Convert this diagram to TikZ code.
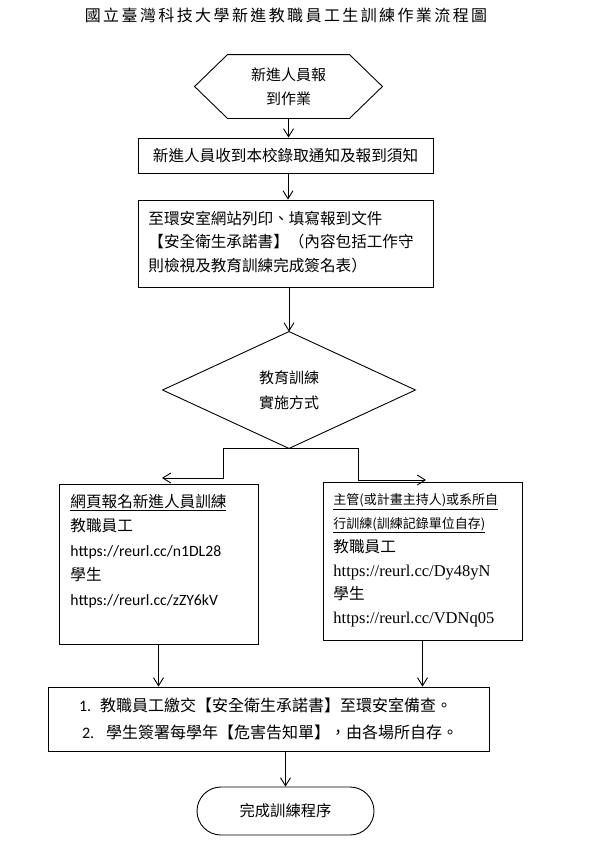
\documentclass[tikz,border=0pt]{standalone}
\usepackage{fontspec}
\setmainfont{Noto Sans CJK TC}
\newfontfamily\calfont{Carlito}
\newfontfamily\tmsfont{Liberation Serif}
\usetikzlibrary{arrows.meta,calc}
\newcommand\setfs[2]{\fontsize{#1}{#2}\selectfont}
\begin{document}
\begin{tikzpicture}[x=1pt,y=-1pt,
  line width=0.9pt,
  arr/.style={-{Straight Barb[length=8pt,width=10pt]}},
  box/.style={draw, rectangle, inner sep=0pt},
  ghost/.style={inner sep=0pt},
  txt/.style={inner sep=0pt, align=left, anchor=west},
  ]
\useasboundingbox (0,0) rectangle (593,846);
\coordinate (sp) at (288,0);

% title
\node[ghost] (title) at (286,15) {\setfs{16}{16}\addfontfeatures{LetterSpace=15}國立臺灣科技大學新進教職員工生訓練作業流程圖};

% hexagon
\node[ghost, minimum width=187pt, minimum height=63pt, align=center, font=\setfs{15}{24}] (hex) at (288.5,86.5) {新進人員報\\到作業};
\draw (hex.west) -- ($(hex.north west)+(33,0)$) -- ($(hex.north east)+(-33,0)$) -- (hex.east) -- ($(hex.south east)+(-33,0)$) -- ($(hex.south west)+(33,0)$) -- cycle;

% box 1
\node[box, minimum width=295pt, minimum height=35pt, font=\setfs{15.6}{20}] (b1) at (285.5,155.5) {新進人員收到本校錄取通知及報到須知};

% box 2
\node[box, minimum width=295pt, minimum height=87pt] (b2) at (285.5,243.5) {};
\node[txt, font=\setfs{15.6}{23.5}] (b2t) at (148,242) {至環安室網站列印、填寫報到文件\\【安全衛生承諾書】（內容包括工作守\\則檢視及教育訓練完成簽名表）};

% diamond
\node[ghost, minimum width=252pt, minimum height=116pt, align=center, font=\setfs{15}{25}] (dia) at (289,390) {教育訓練\\實施方式};
\draw (dia.north) -- (dia.east) -- (dia.south) -- (dia.west) -- cycle;

% box 3
\node[box, minimum width=199pt, minimum height=160pt] (b3) at (158.5,564) {};
\node[txt, font=\setfs{15.6}{24.5}] (b3t) at (70,551) {\underline{網頁報名新進人員訓練}\\教職員工\\{\calfont\setfs{15.7}{24.5}https://reurl.cc/n1DL28}\\學生\\{\calfont\setfs{15.7}{24.5}https://reurl.cc/zZY6kV}};

% box 4
\node[box, minimum width=199pt, minimum height=158pt] (b4) at (422.5,561) {};
\node[txt, font=\setfs{15.6}{23.8}] (b4t) at (333,560.5) {{\setfs{13}{23.8}\underline{主管(或計畫主持人)或系所自}}\\{\setfs{13}{23.8}\underline{行訓練(訓練記錄單位自存)}}\\教職員工\\{\tmsfont\setfs{16.5}{23.8}https://reurl.cc/Dy48yN}\\學生\\{\tmsfont\setfs{16.5}{23.8}https://reurl.cc/VDNq05}};

% box 5
\node[box, minimum width=441pt, minimum height=64pt, align=left, font=\setfs{16}{27}] (b5) at (268.5,719) {\makebox[21pt][l]{\calfont 1.}教職員工繳交【安全衛生承諾書】至環安室備查。\\\hspace*{3pt}\makebox[24pt][l]{\calfont 2.}學生簽署每學年【危害告知單】，由各場所自存。};

% terminal
\node[draw, rectangle, rounded corners=24pt, minimum width=177pt, minimum height=48pt, inner sep=0pt, font=\setfs{15.3}{20}] (term) at (285.5,811) {完成訓練程序};

% connectors
\draw[arr] (hex.south) -- (hex.south |- b1.north);
\draw[arr] (b1.south -| sp) -- (b2.north -| sp);
\draw[arr] (b2.south -| dia.north) -- (dia.north);
\coordinate (lk) at (223,478);
\coordinate (la) at (162,478);
\draw[arr] (dia.south) -| (lk) -- (la);
\coordinate (rk) at (358,480);
\coordinate (ra) at (426,480);
\draw[arr] (dia.south) -| (rk) -- (ra);
\draw[arr] (b3.south) -- (b3.south |- b5.north);
\draw[arr] (b4.south) -- (b4.south |- b5.north);
\draw[arr] (b5.south -| term.north) -- (term.north);
\end{tikzpicture}
\end{document}
